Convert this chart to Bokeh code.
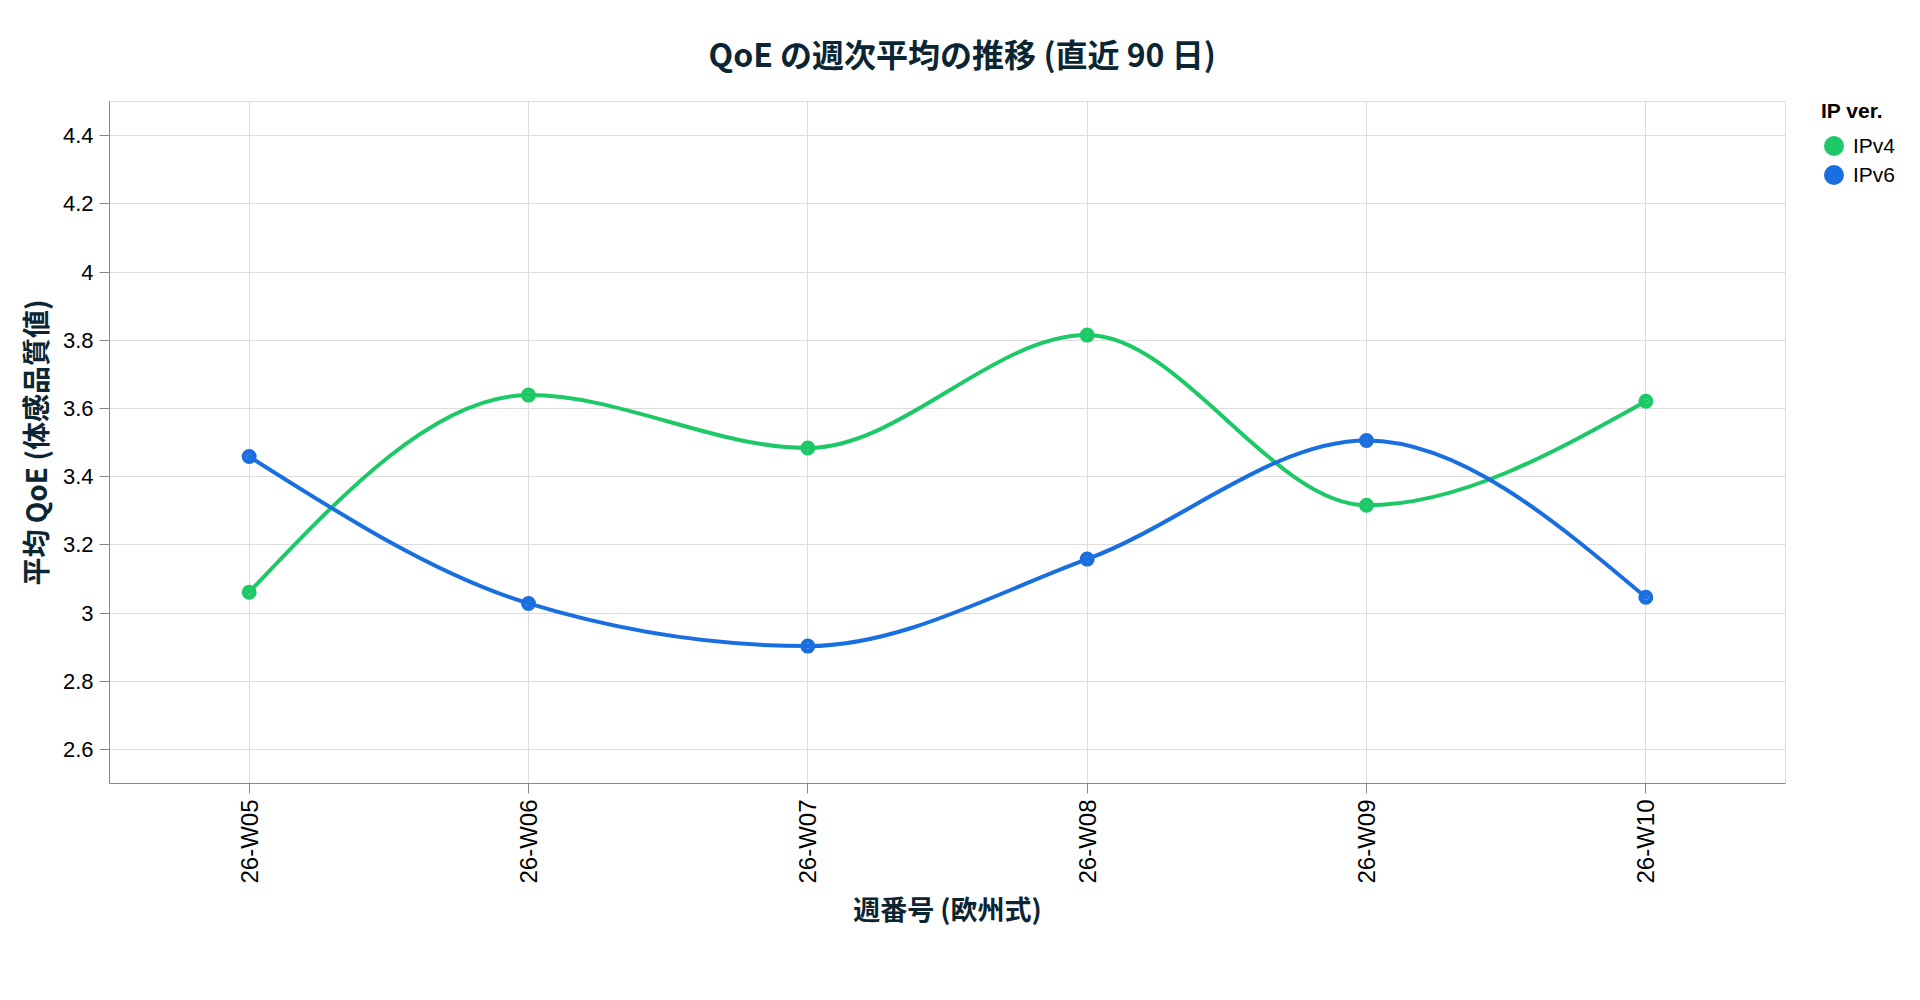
import math

import numpy as np
from bokeh.embed import file_html
from bokeh.models import (ColumnDataSource, FixedTicker, Legend, LegendItem,
                          NumeralTickFormatter, Range1d, SingleIntervalTicker)
from bokeh.plotting import figure
from bokeh.resources import INLINE

weeks = ["26-W05", "26-W06", "26-W07", "26-W08", "26-W09", "26-W10"]
ipv4 = [3.061, 3.639, 3.484, 3.815, 3.316, 3.621]
ipv6 = [3.459, 3.028, 2.903, 3.158, 3.506, 3.046]
series_names = ["IPv4", "IPv6"]
series_colors = ["#1dc967", "#1a6fe0"]

TICK_FONT = "Liberation Sans"
CJK_FONT = "Noto Sans CJK JP"


def monotone_segments(x, y):
    # cubic bezier pieces of a monotone-x curve through the points
    x = np.asarray(x, dtype=float)
    y = np.asarray(y, dtype=float)
    h = np.diff(x)
    s = np.diff(y) / h
    n = len(x)
    t = np.zeros(n)
    for i in range(1, n - 1):
        p = (s[i - 1] * h[i] + s[i] * h[i - 1]) / (h[i - 1] + h[i])
        t[i] = (np.sign(s[i - 1]) + np.sign(s[i])) * min(abs(s[i - 1]), abs(s[i]), 0.5 * abs(p))
    t[0] = (3 * s[0] - t[1]) / 2
    t[-1] = (3 * s[-1] - t[-2]) / 2
    dx = h / 3
    return dict(x0=x[:-1], y0=y[:-1], x1=x[1:], y1=y[1:],
                cx0=x[:-1] + dx, cy0=y[:-1] + dx * t[:-1],
                cx1=x[1:] - dx, cy1=y[1:] - dx * t[1:])


xs = np.arange(len(weeks)) + 0.5

p = figure(frame_width=1676, frame_height=682,
           x_range=Range1d(0, len(weeks)), y_range=Range1d(2.5, 4.5),
           output_backend="svg", toolbar_location=None,
           min_border_left=109, min_border_top=101, min_border_right=112, min_border_bottom=160)

items = []
for name, vals, color in zip(series_names, [ipv4, ipv6], series_colors):
    p.bezier(source=ColumnDataSource(monotone_segments(xs, vals)),
             x0="x0", y0="y0", x1="x1", y1="y1", cx0="cx0", cy0="cy0", cx1="cx1", cy1="cy1",
             line_color=color, line_width=4)
    r = p.scatter(xs, vals, size=5, line_width=10, color=color)
    items.append(LegendItem(label=name, renderers=[r]))

# title (offset only works for left/right alignment)
p.title.text = "QoE の週次平均の推移 (直近 90 日)"
p.title.align = "left"
p.title.offset = 599
p.title.text_font = CJK_FONT
p.title.text_font_size = "32px"
p.title.text_font_style = "bold"
p.title.text_color = "#0c2533"
p.title.standoff = 51

# axes
p.xaxis.ticker = FixedTicker(ticks=list(xs))
p.xaxis.major_label_overrides = {float(x): w for x, w in zip(xs, weeks)}
p.xaxis.major_label_orientation = math.pi / 2
p.yaxis.ticker = SingleIntervalTicker(interval=0.2, num_minor_ticks=0)
p.yaxis.formatter = NumeralTickFormatter(format="0.[0]")
p.xaxis.axis_label = "週番号 (欧州式)"
p.yaxis.axis_label = "平均 QoE (体感品質値)"

for ax in (p.xaxis, p.yaxis):
    ax.axis_line_color = "#888888"
    ax.major_tick_line_color = "#888888"
    ax.major_tick_out = 10
    ax.major_tick_in = 0
    ax.minor_tick_line_color = None
    ax.major_label_text_font = TICK_FONT
    ax.major_label_text_font_size = "22px"
    ax.major_label_text_color = "#000000"
    ax.major_label_standoff = 6
    ax.axis_label_text_font = CJK_FONT
    ax.axis_label_text_font_style = "bold"
    ax.axis_label_text_color = "#0c2533"

p.xaxis.major_label_text_font_size = "24px"
p.xaxis.axis_label_text_font_size = "27px"
p.xaxis.axis_label_standoff = 2
p.yaxis.axis_label_text_font_size = "28px"
p.yaxis.axis_label_standoff = 5

p.xgrid.grid_line_color = "#dddddd"
p.ygrid.grid_line_color = "#dddddd"
p.outline_line_color = "#dddddd"
p.background_fill_color = "white"
p.border_fill_color = "white"

legend = Legend(items=items, title="IP ver.", location=(36, 596),
                margin=0, padding=0, spacing=4,
                glyph_width=25, glyph_height=25, label_standoff=7,
                border_line_color=None, background_fill_alpha=0)
legend.title_text_font = TICK_FONT
legend.title_text_font_size = "21px"
legend.title_text_font_style = "bold"
legend.title_text_color = "#000000"
legend.title_standoff = 10
legend.label_text_font = TICK_FONT
legend.label_text_font_size = "21px"
legend.label_text_color = "#000000"
p.add_layout(legend, "right")

open("out.html", "w").write(file_html(p, INLINE))
